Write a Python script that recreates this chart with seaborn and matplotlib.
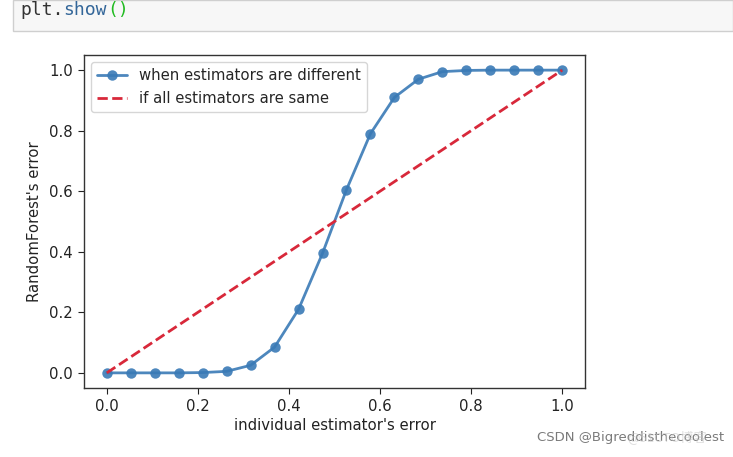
import matplotlib
matplotlib.use("Agg")
import matplotlib.pyplot as plt
import seaborn as sns
import pandas as pd
from matplotlib.patches import Rectangle

# data
x_vals = [0.0, 0.0526, 0.1053, 0.1579, 0.2105, 0.2632, 0.3158, 0.3684, 0.4211, 0.4737,
          0.5263, 0.5789, 0.6316, 0.6842, 0.7368, 0.7895, 0.8421, 0.8947, 0.9474, 1.0]
y_diff = [0.0, 0.0, 0.0, 0.0, 0.001, 0.005, 0.025, 0.085, 0.21, 0.395,
          0.605, 0.79, 0.91, 0.97, 0.995, 0.999, 1.0, 1.0, 1.0, 1.0]
same_x = [0.0, 1.0]
same_y = [0.0, 1.0]
label_diff = "when estimators are different"
label_same = "if all estimators are same"
tick_vals = [0.0, 0.2, 0.4, 0.6, 0.8, 1.0]
tick_labels = ["0.0", "0.2", "0.4", "0.6", "0.8", "1.0"]

sns.set_style("ticks")
plt.rcParams['font.family'] = ['DejaVu Sans']

FS = 10.7
fig = plt.figure(figsize=(7.33, 4.57), dpi=100)
fig.patch.set_facecolor("white")

# notebook code cell chrome
fig.patches.append(Rectangle((13/733, 1 - 31/457), 1 - 13/733, 31/457,
                             transform=fig.transFigure, facecolor="#f7f7f7",
                             edgecolor="#cfcfcf", linewidth=1))
tx, ty = 20/733, 1 - 10/457
t1 = fig.text(tx, ty, "plt.", family="DejaVu Sans Mono", fontsize=13, color="#333333", va="center")
fig.canvas.draw()
bb = t1.get_window_extent()
t2 = fig.text(bb.x1/733, ty, "show", family="DejaVu Sans Mono", fontsize=13, color="#336699", va="center")
fig.canvas.draw()
bb2 = t2.get_window_extent()
fig.text(bb2.x1/733, ty, "()", family="DejaVu Sans Mono", fontsize=13, color="#22bb22", va="center")

ax = fig.add_axes([84/733, 1 - 388/457, (585 - 84)/733, (388 - 55)/457])

df = pd.DataFrame({"x": x_vals, "y": y_diff})
df2 = pd.DataFrame({"x": same_x, "y": same_y})

sns.lineplot(data=df, x="x", y="y", ax=ax, color="#3a7ab6", marker="o", markersize=7.5,
             markeredgewidth=0, linewidth=2, alpha=0.9, label=label_diff)
sns.lineplot(data=df2, x="x", y="y", ax=ax, color="#d8283a", linestyle="--",
             linewidth=2, label=label_same)

ax.set_xlim(-0.05, 1.05)
ax.set_ylim(-0.05, 1.05)
ax.set_xticks(tick_vals)
ax.set_yticks(tick_vals)
ax.set_xticklabels(tick_labels)
ax.set_yticklabels(tick_labels)
ax.tick_params(labelsize=FS, colors="#222222", length=4, width=0.8, pad=4)
ax.set_xlabel("individual estimator's error", fontsize=FS, color="#222222", labelpad=3)
ax.set_ylabel("RandomForest's error", fontsize=FS, color="#222222", labelpad=5)
for s in ax.spines.values():
    s.set_visible(True)
    s.set_color("#333333")
    s.set_linewidth(1.0)
ax.grid(False)
ax.legend(loc="upper left", fontsize=FS, frameon=True, framealpha=0.8,
          edgecolor="#cccccc", handlelength=2, borderaxespad=0.5)

fig.text(537/733, 1 - 438/457, "CSDN @Bigreddisthecoolest", fontsize=9.5,
         color="#7a7a7a", va="center", family="DejaVu Sans")
fig.text(627/733, 1 - 438/457, "@51CTO博客", fontsize=9.5, color="#c8c8c8",
         alpha=0.6, va="center", family=["Noto Sans CJK SC", "DejaVu Sans"])

fig.savefig("out.png", dpi=100, facecolor="white")
